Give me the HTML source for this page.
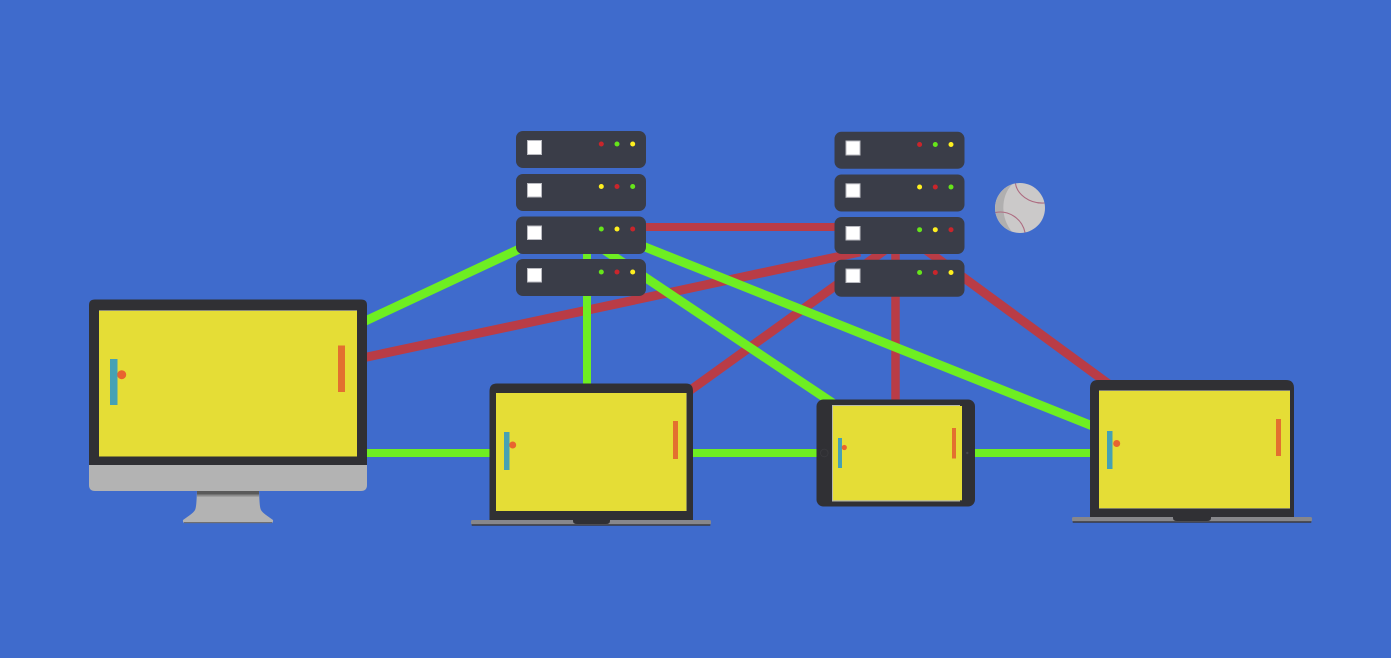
<!DOCTYPE html>
<html>
<head>
<meta charset="utf-8">
<style>
html,body{margin:0;padding:0;background:#3f6bcc;width:1391px;height:658px;overflow:hidden}
svg{display:block}
</style>
</head>
<body>
<svg width="1391" height="658" viewBox="0 0 1391 658" xmlns="http://www.w3.org/2000/svg">
<rect width="1391" height="658" fill="#3f6bcc"/>

<!-- red connectors -->
<g stroke="#b93c46" fill="none">
  <line x1="640" y1="227" x2="840" y2="227" stroke-width="8"/>
  <line x1="360" y1="358.500" x2="860" y2="252" stroke-width="9"/>
  <line x1="685" y1="394" x2="885" y2="250" stroke-width="9"/>
  <line x1="895.500" y1="250" x2="895.500" y2="405" stroke-width="8.500"/>
  <line x1="926" y1="250" x2="1110" y2="385" stroke-width="9"/>
</g>
<!-- green connectors -->
<g stroke="#6eee22" fill="none">
  <line x1="360" y1="323.500" x2="530" y2="244" stroke-width="9"/>
  <line x1="587" y1="250" x2="587" y2="390" stroke-width="8"/>
  <line x1="605" y1="250.500" x2="835" y2="404.500" stroke-width="9"/>
  <line x1="640" y1="245" x2="1095" y2="427" stroke-width="9"/>
  <line x1="360" y1="453" x2="1095" y2="453" stroke-width="8"/>
</g>

<!-- left server rack -->
<g fill="#3a3d48">
  <rect x="516" y="131" width="130" height="37" rx="7"/>
  <rect x="516" y="174" width="130" height="37" rx="7"/>
  <rect x="516" y="216.500" width="130" height="37.500" rx="7"/>
  <rect x="516" y="259" width="130" height="37" rx="7"/>
</g>
<g fill="#fff" stroke="#b9bac0" stroke-width="1">
  <rect x="527.500" y="140.500" width="14" height="14"/>
  <rect x="527.500" y="183.500" width="14" height="13.500"/>
  <rect x="527.500" y="226" width="14" height="13.500"/>
  <rect x="527.500" y="268.500" width="14" height="13.500"/>
</g>
<g>
  <circle cx="601.300" cy="144" r="2.500" fill="#c9252b"/><circle cx="617" cy="144" r="2.500" fill="#66e51a"/><circle cx="632.700" cy="144" r="2.500" fill="#fff01f"/>
  <circle cx="601.300" cy="186.500" r="2.500" fill="#fff01f"/><circle cx="617" cy="186.500" r="2.500" fill="#c9252b"/><circle cx="632.700" cy="186.500" r="2.500" fill="#66e51a"/>
  <circle cx="601.300" cy="229" r="2.500" fill="#66e51a"/><circle cx="617" cy="229" r="2.500" fill="#fff01f"/><circle cx="632.700" cy="229" r="2.500" fill="#c9252b"/>
  <circle cx="601.300" cy="272" r="2.500" fill="#66e51a"/><circle cx="617" cy="272" r="2.500" fill="#c9252b"/><circle cx="632.700" cy="272" r="2.500" fill="#fff01f"/>
</g>

<!-- right server rack -->
<g fill="#3a3d48">
  <rect x="834.500" y="131.800" width="130" height="37" rx="7"/>
  <rect x="834.500" y="174.500" width="130" height="37" rx="7"/>
  <rect x="834.500" y="217" width="130" height="37" rx="7"/>
  <rect x="834.500" y="259.800" width="130" height="37" rx="7"/>
</g>
<g fill="#fff" stroke="#b9bac0" stroke-width="1">
  <rect x="846" y="141" width="14" height="14"/>
  <rect x="846" y="183.800" width="14" height="13.500"/>
  <rect x="846" y="226.500" width="14" height="13.500"/>
  <rect x="846" y="269" width="14" height="13.500"/>
</g>
<g>
  <circle cx="919.600" cy="144.500" r="2.500" fill="#c9252b"/><circle cx="935.300" cy="144.500" r="2.500" fill="#66e51a"/><circle cx="951" cy="144.500" r="2.500" fill="#fff01f"/>
  <circle cx="919.600" cy="187" r="2.500" fill="#fff01f"/><circle cx="935.300" cy="187" r="2.500" fill="#c9252b"/><circle cx="951" cy="187" r="2.500" fill="#66e51a"/>
  <circle cx="919.600" cy="229.700" r="2.500" fill="#66e51a"/><circle cx="935.300" cy="229.700" r="2.500" fill="#fff01f"/><circle cx="951" cy="229.700" r="2.500" fill="#c9252b"/>
  <circle cx="919.600" cy="272.500" r="2.500" fill="#66e51a"/><circle cx="935.300" cy="272.500" r="2.500" fill="#c9252b"/><circle cx="951" cy="272.500" r="2.500" fill="#fff01f"/>
</g>

<!-- baseball -->
<circle cx="1020" cy="208" r="25" fill="#cbc9c9"/>
<path d="M1012 184.400 A25 25 0 0 0 1012 231.700 C1001 219 1000 197 1012 184.400Z" fill="#b0afaf"/>
<path d="M1015.500 183.500 C1017 194 1029 204 1044.500 203" fill="none" stroke="#ad6b80" stroke-width="1.100"/>
<path d="M995.500 212.500 C1008 210 1022 218 1025 232.500" fill="none" stroke="#ad6b80" stroke-width="1.100"/>

<!-- desktop monitor -->
<path d="M197 491H259C259.500 500 259.500 507 261 510Q262 512 266 515L273 520Q273.500 523 271 523H185Q182.500 523 183 520L190 515Q194 512 195 510C196.500 507 196.500 500 197 491Z" fill="#b3b3b3"/>
<rect x="197" y="491" width="62" height="3.500" fill="#5a5a5a"/>
<rect x="197" y="494.500" width="62" height="2" fill="#8a8a8a"/>
<rect x="184" y="522" width="88" height="1.200" fill="#6e6e72"/>
<path d="M89 465H367V485Q367 491 361 491H95Q89 491 89 485Z" fill="#b3b3b3"/>
<path d="M89 465V305Q89 299.500 95 299.500H361Q367 299.500 367 305V465Z" fill="#303034"/>
<rect x="99" y="310.500" width="258" height="146" fill="#e5dd36"/>
<rect x="99" y="310" width="258" height="1" fill="#8d8c78"/>
<rect x="110" y="359" width="7.500" height="46" fill="#46a1b4"/>
<circle cx="121.700" cy="374.700" r="4.500" fill="#e8642f"/>
<rect x="338" y="345.500" width="7" height="46.500" fill="#e3702f"/>

<!-- laptop 1 -->
<path d="M489.500 520V391Q489.500 383.500 497 383.500H686Q693 383.500 693 391V520Z" fill="#303034"/>
<rect x="496" y="393" width="191" height="118" fill="#e5dd36"/>
<rect x="686" y="393" width="1" height="118" fill="#8d8c50"/>
<rect x="504" y="432" width="5.500" height="38" fill="#46a1b4"/>
<circle cx="512.700" cy="445" r="3.500" fill="#e8642f"/>
<rect x="673" y="421" width="5" height="38" fill="#e3702f"/>
<rect x="471" y="520" width="240" height="4.500" rx="1.500" fill="#87878b"/>
<rect x="471.500" y="524.300" width="239" height="1.400" rx="0.700" fill="#3a3a40"/>
<path d="M573 520H610V521Q610 524 606 524H577Q573 524 573 521Z" fill="#303034"/>

<!-- tablet -->
<rect x="816.500" y="399.500" width="158.500" height="107" rx="7" fill="#303034"/>
<rect x="832" y="405" width="128" height="96.500" fill="#b9b9a8"/>
<rect x="833" y="406" width="129" height="94.300" fill="#e5dd36"/>
<rect x="838" y="438" width="4" height="30" fill="#46a1b4"/>
<circle cx="844.300" cy="447.500" r="2.600" fill="#e8642f"/>
<rect x="952" y="428" width="4" height="30.500" fill="#e3702f"/>
<circle cx="824.300" cy="453" r="3.800" fill="none" stroke="#3a3a3e" stroke-width="0.800"/>
<circle cx="967.300" cy="453" r="1.200" fill="#46464c"/>

<!-- laptop 2 -->
<path d="M1090 517V388Q1090 380 1098 380H1286Q1294 380 1294 388V517Z" fill="#303034"/>
<rect x="1099" y="391" width="191" height="117" fill="#e5dd36"/>
<rect x="1099" y="390" width="191" height="1" fill="#7f7f72"/>
<rect x="1099" y="508" width="191" height="1" fill="#7f7f62"/>
<rect x="1107" y="431" width="5.500" height="38" fill="#46a1b4"/>
<circle cx="1116.700" cy="443.500" r="3.500" fill="#e8642f"/>
<rect x="1276" y="419" width="5" height="37" fill="#e3702f"/>
<rect x="1072" y="517" width="240" height="4.500" rx="1.500" fill="#87878b"/>
<rect x="1072.500" y="521.300" width="239" height="1.400" rx="0.700" fill="#3a3a40"/>
<path d="M1173 517H1211V518Q1211 521 1207 521H1177Q1173 521 1173 518Z" fill="#303034"/>
</svg>
</body>
</html>
